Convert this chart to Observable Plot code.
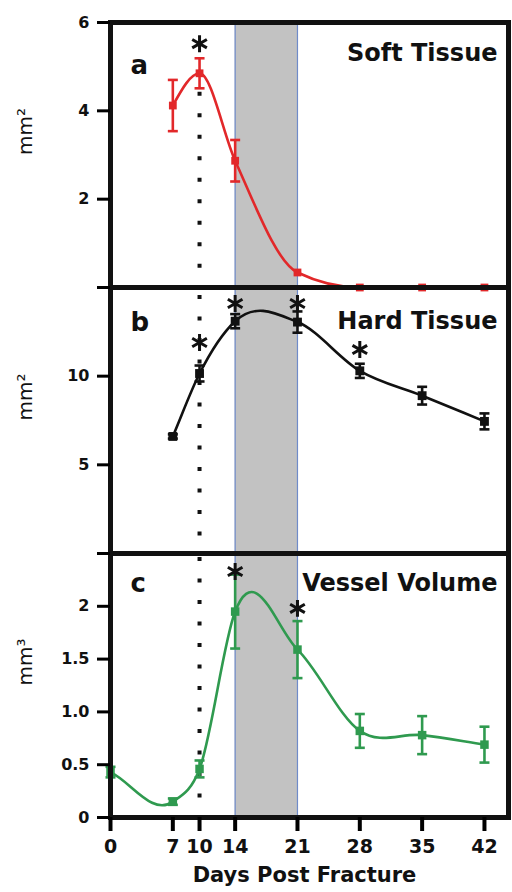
<!DOCTYPE html>
<html>
<head>
<meta charset="utf-8">
<script src="https://cdn.jsdelivr.net/npm/d3@7"></script>
<script src="https://cdn.jsdelivr.net/npm/@observablehq/plot@0.6"></script>
<style>
  html, body { margin: 0; padding: 0; background: #fff; }
  #chart { position: relative; width: 512px; height: 892px; overflow: hidden; }
  #chart svg { position: absolute; left: 0; }
</style>
</head>
<body>
<div id="chart"></div>
<script>
// ---- data ----
const xTicks = [0, 7, 10, 14, 21, 28, 35, 42];
const xTickLabels = ["0", "7", "10", "14", "21", "28", "35", "42"];
const xLabel = "Days Post Fracture";

const bandStart = 14;
const bandEnd = 21;
const dottedDay = 10;

// a: Soft Tissue (mm²)
const softDays = [7, 10, 14, 21, 28, 35, 42];
const softValues = [4.12, 4.85, 2.87, 0.34, 0.0, 0.0, 0.0];
const softErr = [0.58, 0.34, 0.47, 0, 0, 0, 0];
const softStarDays = [10];
const softStarValues = [5.52];
const softTicks = [0, 2, 4, 6];
const softTickLabels = ["", "2", "4", "6"];
const softDotFrom = 4.42;

// b: Hard Tissue (mm²)
const hardDays = [7, 10, 14, 21, 28, 35, 42];
const hardValues = [6.6, 10.15, 13.1, 13.05, 10.3, 8.9, 7.45];
const hardErr = [0.12, 0.45, 0.4, 0.6, 0.4, 0.5, 0.45];
const hardStarDays = [10, 14, 21, 28];
const hardStarValues = [11.9, 14.1, 14.1, 11.5];
const hardTicks = [0, 5, 10, 15];
const hardTickLabels = ["", "5", "10", ""];

// c: Vessel Volume (mm³)
const vesselDays = [0, 7, 10, 14, 21, 28, 35, 42];
const vesselValues = [0.43, 0.15, 0.46, 1.95, 1.59, 0.82, 0.78, 0.69];
const vesselErr = [0.05, 0.03, 0.08, 0.35, 0.27, 0.16, 0.18, 0.17];
const vesselStarDays = [14, 21];
const vesselStarValues = [2.33, 1.98];
const vesselTicks = [0, 0.5, 1, 1.5, 2, 2.5];
const vesselTickLabels = ["0", "0.5", "1.0", "1.5", "2", ""];

// ---- helpers ----
const FONT = "DejaVu Sans";

// smooth interpolating curve (cubic Hermite, parabolic/Bessel tangents)
function smoothCurve(context) {
  let xs, ys;
  return {
    areaStart() {}, areaEnd() {},
    lineStart() { xs = []; ys = []; },
    point(x, y) { xs.push(+x); ys.push(+y); },
    lineEnd() {
      const n = xs.length;
      if (!n) return;
      context.moveTo(xs[0], ys[0]);
      if (n === 1) return;
      const h = [], d = [], m = [];
      for (let i = 0; i < n - 1; i++) { h[i] = xs[i + 1] - xs[i]; d[i] = (ys[i + 1] - ys[i]) / h[i]; }
      m[0] = d[0]; m[n - 1] = d[n - 2];
      for (let i = 1; i < n - 1; i++) m[i] = (h[i - 1] * d[i] + h[i] * d[i - 1]) / (h[i - 1] + h[i]);
      for (let i = 0; i < n - 1; i++) {
        const t = h[i] / 3;
        context.bezierCurveTo(xs[i] + t, ys[i] + m[i] * t, xs[i + 1] - t, ys[i + 1] - m[i + 1] * t, xs[i + 1], ys[i + 1]);
      }
    }
  };
}

const cap = {
  draw(context, size) {
    const w = Math.sqrt(size / Math.PI);
    context.moveTo(-w, 0);
    context.lineTo(w, 0);
  }
};
function rows(days, values, err) {
  return days.map((d, i) => ({day: d, value: values[i], err: err[i]}));
}
function stars(days, values) {
  return days.map((d, i) => ({day: d, value: values[i]}));
}
function seriesMarks(data, color, curve, size) {
  const withErr = data.filter(d => d.err > 0);
  return [
    Plot.line(data, {x: "day", y: "value", curve, stroke: color, strokeWidth: 2.6}),
    Plot.ruleX(withErr, {x: "day", y1: d => d.value - d.err, y2: d => d.value + d.err, stroke: color, strokeWidth: 2.6}),
    Plot.dot(withErr, {x: "day", y: d => d.value + d.err, symbol: cap, r: 5, stroke: color, strokeWidth: 2.6}),
    Plot.dot(withErr, {x: "day", y: d => d.value - d.err, symbol: cap, r: 5, stroke: color, strokeWidth: 2.6}),
    Plot.dot(data, {x: "day", y: "value", symbol: "square", r: size, fill: color, stroke: "none"})
  ];
}
function bandMarks() {
  return [
    Plot.rect([{x1: bandStart, x2: bandEnd}], {x1: "x1", x2: "x2", fill: "#c2c2c2"}),
    Plot.ruleX([bandStart, bandEnd], {stroke: "#6f8bc9", strokeWidth: 1.2})
  ];
}
function yAxis(ticks, labels) {
  return Plot.axisY({
    ticks, tickFormat: (d) => labels[ticks.indexOf(d)],
    tickSize: 13, tickPadding: 8, strokeWidth: 3,
    fontSize: 16, fontWeight: "bold", fontFamily: FONT, fill: "#111", label: null
  });
}
function panelTexts(letter, letterDy, title, titleDy, unit) {
  return [
    Plot.text([letter], {text: d => d, frameAnchor: "top-left", textAnchor: "start", dx: 20, dy: letterDy,
      fontSize: 26, fontWeight: "bold", fontFamily: FONT, fill: "#111"}),
    Plot.text([title], {text: d => d, frameAnchor: "top-right", textAnchor: "end", dx: -11, dy: titleDy,
      fontSize: 24, fontWeight: "bold", fontFamily: FONT, fill: "#111"}),
    Plot.text([unit], {text: d => d, frameAnchor: "left", dx: -85, rotate: -90,
      fontSize: 20, fontFamily: FONT, fill: "#111"})
  ];
}
function makePanel(opts) {
  return Plot.plot({
    width: 512,
    height: opts.height,
    marginLeft: 110,
    marginRight: 4,
    marginTop: opts.marginTop,
    marginBottom: opts.marginBottom,
    x: {domain: [0, 44.7], axis: null},
    y: {domain: opts.yDomain, axis: null},
    style: {background: "transparent", overflow: "visible", fontFamily: FONT},
    marks: opts.marks
  });
}

const chart = document.getElementById("chart");

// panel a
const panelA = makePanel({
  height: 287, marginTop: 22, marginBottom: 0, yDomain: [0, 6],
  marks: [
    ...bandMarks(),
    Plot.ruleX([dottedDay], {y1: softDotFrom, y2: 0, stroke: "#111", strokeWidth: 4, strokeDasharray: "4,17.5"}),
    ...seriesMarks(rows(softDays, softValues, softErr), "#e2282a", "monotone-x", 4.4),
    Plot.dot(stars(softStarDays, softStarValues), {x: "day", y: "value", symbol: "asterisk", r: 8, stroke: "#111", strokeWidth: 3}),
    Plot.frame({stroke: "#111", strokeWidth: 5}),
    yAxis(softTicks, softTickLabels),
    ...panelTexts("a", 32.7, "Soft Tissue", 21, "mm²")
  ]
});
panelA.style.top = "0px";
chart.appendChild(panelA);

// panel b
const panelB = makePanel({
  height: 266, marginTop: 0, marginBottom: 0, yDomain: [0, 15],
  marks: [
    ...bandMarks(),
    Plot.ruleX([dottedDay], {stroke: "#111", strokeWidth: 4, strokeDasharray: "4,17.5", strokeDashoffset: -8}),
    ...seriesMarks(rows(hardDays, hardValues, hardErr), "#111", smoothCurve, 5),
    Plot.dot(stars(hardStarDays, hardStarValues), {x: "day", y: "value", symbol: "asterisk", r: 8, stroke: "#111", strokeWidth: 3}),
    Plot.frame({stroke: "#111", strokeWidth: 5}),
    yAxis(hardTicks, hardTickLabels),
    ...panelTexts("b", 25.4, "Hard Tissue", 24.6, "mm²")
  ]
});
panelB.style.top = "287px";
chart.appendChild(panelB);

// panel c
const panelC = makePanel({
  height: 339, marginTop: 0, marginBottom: 75, yDomain: [0, 2.5],
  marks: [
    ...bandMarks(),
    Plot.ruleX([dottedDay], {stroke: "#111", strokeWidth: 4, strokeDasharray: "4,17.5", strokeDashoffset: -4}),
    ...seriesMarks(rows(vesselDays, vesselValues, vesselErr), "#2f9a4f", smoothCurve, 4.8),
    Plot.dot(stars(vesselStarDays, vesselStarValues), {x: "day", y: "value", symbol: "asterisk", r: 8, stroke: "#111", strokeWidth: 3}),
    Plot.frame({stroke: "#111", strokeWidth: 5}),
    yAxis(vesselTicks, vesselTickLabels),
    Plot.axisX({
      ticks: xTicks, tickFormat: (d) => xTickLabels[xTicks.indexOf(d)],
      tickSize: 14, tickPadding: 8, strokeWidth: 4,
      fontSize: 19, fontWeight: "bold", fontFamily: FONT, fill: "#111", label: null
    }),
    Plot.text([xLabel], {text: d => d, frameAnchor: "bottom", dy: 64, dx: -5,
      fontSize: 21, fontWeight: "bold", fontFamily: FONT, fill: "#111"}),
    ...panelTexts("c", 20.4, "Vessel Volume", 20, "mm³")
  ]
});
panelC.style.top = "553px";
chart.appendChild(panelC);
</script>
</body>
</html>
